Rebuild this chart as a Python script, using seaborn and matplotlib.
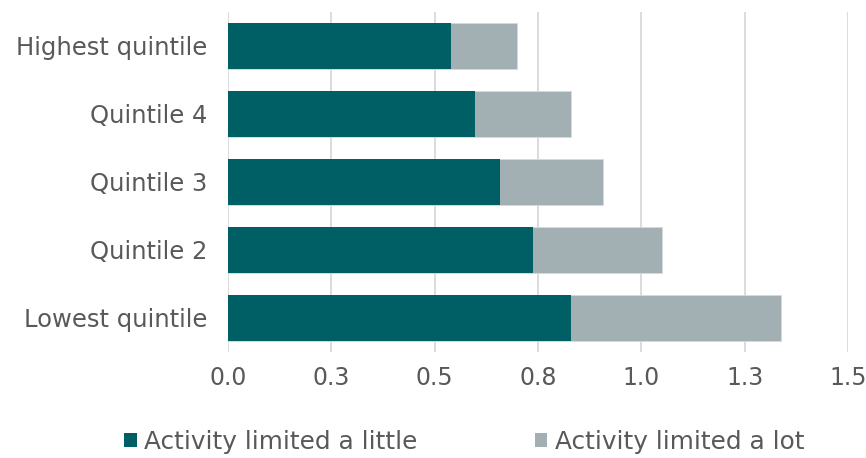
import matplotlib
matplotlib.use("Agg")
import matplotlib.pyplot as plt
import seaborn as sns
import pandas as pd
from matplotlib.patches import Patch
from matplotlib.ticker import FixedLocator, FixedFormatter

categories = ["Highest quintile", "Quintile 4", "Quintile 3", "Quintile 2", "Lowest quintile"]
limited_little = [0.540, 0.598, 0.659, 0.739, 0.829]
limited_lot = [0.159, 0.232, 0.249, 0.310, 0.510]
series_names = ["Activity limited a little", "Activity limited a lot"]
x_ticks = [0.0, 0.25, 0.5, 0.75, 1.0, 1.25, 1.5]
x_tick_labels = ["0.0", "0.3", "0.5", "0.8", "1.0", "1.3", "1.5"]

dark = "#005F65"
light = "#A2B0B3"
text_col = "#595959"

sns.set_theme(style="white")
plt.rcParams["font.family"] = ["DejaVu Sans"]

df = pd.DataFrame({"cat": categories, "little": limited_little, "lot": limited_lot})
df["total"] = df["little"] + df["lot"]

fig = plt.figure(figsize=(8.66, 4.58), dpi=100)
ax = fig.add_axes([228 / 866, 1 - 352 / 458, (848 - 228) / 866, 340 / 458])

sns.barplot(data=df, x="total", y="cat", orient="h", color=light, width=0.67,
            saturation=1, ax=ax, edgecolor="#D5DBDC", linewidth=0.6, zorder=2)
sns.barplot(data=df, x="little", y="cat", orient="h", color=dark, width=0.67,
            saturation=1, ax=ax, linewidth=0, zorder=3)

ax.set_xlim(0, 1.5)
ax.xaxis.set_major_locator(FixedLocator(x_ticks))
ax.xaxis.set_major_formatter(FixedFormatter(x_tick_labels))
ax.grid(axis="x", color="#D9D9D9", linewidth=1.3, zorder=0)
ax.set_axisbelow(True)
ax.set_xlabel("")
ax.set_ylabel("")
for s in ax.spines.values():
    s.set_visible(False)
ax.tick_params(axis="x", length=0, pad=10, labelsize=17, labelcolor=text_col)
ax.tick_params(axis="y", length=0, pad=15, labelsize=17.5, labelcolor=text_col)

handles = [Patch(facecolor=dark, edgecolor="none"), Patch(facecolor=light, edgecolor="none")]
fig.legend(handles, series_names, loc="center", bbox_to_anchor=(0.536, 0.036), ncol=2,
           frameon=False, fontsize=17.8, labelcolor=text_col, handlelength=0.5,
           handleheight=0.5, handletextpad=0.3, columnspacing=4.75)

fig.savefig("out.png", dpi=100)
